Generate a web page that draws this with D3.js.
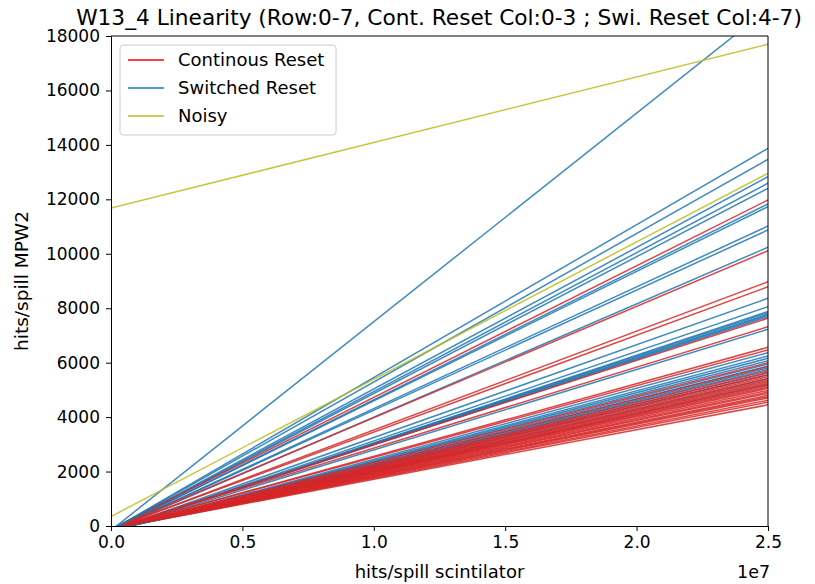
<html><head>
  <script type="text/javascript" src="https://d3js.org/d3.v7.min.js"></script>
  <style>
    body { margin: 0; background: #fff; }
    text { font-family: "DejaVu Sans", sans-serif; fill: #000; }
    .fit { fill: none; stroke-width: 1.5px; stroke-opacity: 0.85; }
  </style>
</head>
<body>
<script>
  // fitted lines, value at x = 2.5e7 (hits/spill MPW2)
  var contEnd = [4450, 4550, 4620, 4700, 4750, 4800, 4870, 4920, 4980, 5050, 5100,
                 5150, 5200, 5250, 5300, 5350, 5420, 5480, 5550, 5620, 5700, 5850,
                 6000, 6470, 6565, 7321, 7630, 8790, 8975, 10113, 11975];
  var swiEnd = [5200, 5400, 5550, 5650, 5750, 5800, 5880, 5950, 6072, 6160, 6245,
                6366, 7226, 7690, 7740, 7780, 7836, 7880, 8056, 8365, 10238, 10873,
                11020, 11730, 11830, 12405, 12590, 12830, 13470, 13875, 19000];
  var contStart = -110;
  var swiStart = -160;
  // noisy pixels: [value at x=0, value at x=2.5e7]
  var noisyStart = [11680, 350];
  var noisyEnd = [17700, 12956];

  var xTicks = [0, 0.5e7, 1e7, 1.5e7, 2e7, 2.5e7];
  var yTicks = [0, 2000, 4000, 6000, 8000, 10000, 12000, 14000, 16000, 18000];
  var legendLabels = ["Continous Reset", "Switched Reset", "Noisy"];
  var legendColors = ["red", "#1f77b4", "#bcbd22"];

  var margin = {top: 36, right: 47, bottom: 58, left: 111},
      width = 815 - margin.left - margin.right,
      height = 584 - margin.top - margin.bottom;

  var x = d3.scaleLinear().domain([0, 2.5e7]).range([0, width]);
  var y = d3.scaleLinear().domain([0, 18000]).range([height, 0]);

  var svg = d3.select("body").append("svg")
      .attr("width", 815).attr("height", 584);
  var g = svg.append("g")
      .attr("transform", "translate(" + margin.left + "," + margin.top + ")");

  g.append("clipPath").attr("id", "clip")
    .append("rect").attr("width", width).attr("height", height);

  // build lines interleaved by groups of 4 (row by row, cont. then switched)
  var lines = [];
  for (var i = 0; i < 8; i++) {
    contEnd.slice(i * 4, i * 4 + 4).forEach(function(v) {
      lines.push({y0: contStart, y1: v, c: "#d62728"});
    });
    swiEnd.slice(i * 4, i * 4 + 4).forEach(function(v) {
      lines.push({y0: swiStart, y1: v, c: "#1f77b4"});
    });
  }
  noisyStart.forEach(function(v, i) {
    lines.push({y0: v, y1: noisyEnd[i], c: "#bcbd22"});
  });

  var line = d3.line().x(function(d) { return x(d[0]); }).y(function(d) { return y(d[1]); });

  g.append("g").attr("clip-path", "url(#clip)")
    .selectAll("path").data(lines).enter().append("path")
    .attr("class", "fit")
    .attr("stroke", function(d) { return d.c; })
    .attr("d", function(d) { return line([[0, d.y0], [2.5e7, d.y1]]); });

  // axes
  var xAxis = g.append("g")
      .attr("transform", "translate(0," + height + ")")
      .call(d3.axisBottom(x).tickValues(xTicks).tickSize(5).tickPadding(5)
        .tickFormat(function(d) { return (d / 1e7).toFixed(1); }));
  var yAxis = g.append("g")
      .call(d3.axisLeft(y).tickValues(yTicks).tickSize(5).tickPadding(6)
        .tickFormat(d3.format("d")));
  g.append("line").attr("x1", width).attr("x2", width).attr("y1", 0).attr("y2", height)
    .attr("stroke", "#000");
  g.append("line").attr("x1", 0).attr("x2", width).attr("y1", 0).attr("y2", 0)
    .attr("stroke", "#000");
  [xAxis, yAxis].forEach(function(a) {
    a.selectAll("text").style("font-size", "17px").style("font-family", "DejaVu Sans");
    a.select(".domain").attr("stroke", "#000");
  });

  svg.append("text").attr("x", 737).attr("y", 578).style("font-size", "17.5px").text("1e7");

  svg.append("text").attr("x", margin.left + width / 2).attr("y", 578)
    .attr("text-anchor", "middle").style("font-size", "18px").text("hits/spill scintilator");
  svg.append("text")
    .attr("transform", "translate(28," + (margin.top + height / 2) + ") rotate(-90)")
    .attr("text-anchor", "middle").style("font-size", "18.5px").text("hits/spill MPW2");

  svg.append("text").attr("x", 439).attr("y", 25)
    .attr("text-anchor", "middle").style("font-size", "21.7px")
    .text("W13_4 Linearity (Row:0-7, Cont. Reset Col:0-3 ; Swi. Reset Col:4-7)");

  // legend
  var lg = g.append("g").attr("transform", "translate(9,9)");
  lg.append("rect").attr("width", 216).attr("height", 90).attr("rx", 3)
    .attr("fill", "#fff").attr("fill-opacity", 0.8).attr("stroke", "#ccc");
  legendLabels.forEach(function(l, i) {
    var yy = 15 + i * 28;
    lg.append("line").attr("x1", 8).attr("x2", 44).attr("y1", yy).attr("y2", yy)
      .attr("stroke", legendColors[i]).attr("stroke-width", 1.4);
    lg.append("text").attr("x", 58).attr("y", yy + 6).style("font-size", "18px").text(l);
  });
</script>
</body></html>
